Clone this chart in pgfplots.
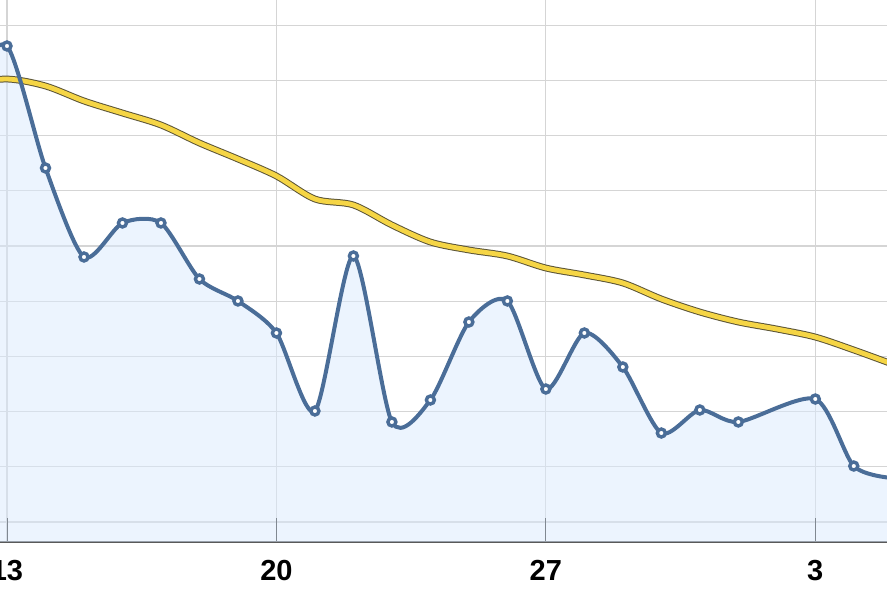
\documentclass[border=0pt]{standalone}
\usepackage{pgfplots}
\usepackage{pgfplotstable}
\pgfplotsset{compat=1.18}
\usepgfplotslibrary{fillbetween}
\usepackage{fontspec}
\setmainfont{Liberation Sans}

\definecolor{lineblue}{HTML}{4A6D98}
\definecolor{areablue}{HTML}{DAEAFD}
\definecolor{gold}{HTML}{F5D545}
\definecolor{goldedge}{HTML}{5B5436}
\definecolor{gridgray}{HTML}{D5D5D5}

% day index 0 = the 13th; day 20 (the 2nd) has no value
\pgfplotstableread{
day val
-1  8.007
0   8.623
1   6.413
2   4.801
3   5.417
4   5.417
5   4.402
6   4.004
7   3.424
8   2.011
9   4.819
10  1.812
11  2.210
12  3.623
13  4.004
14  2.409
15  3.424
16  2.808
17  1.612
18  2.029
19  1.812
21  2.228
22  1.014
23  0.797
}\daily

\pgfplotstableread{
day val
-1  7.935
0   8.025
1   7.899
2   7.627
3   7.409
4   7.192
5   6.866
6   6.576
7   6.268
8   5.851
9   5.743
10  5.380
11  5.072
12  4.928
13  4.819
14  4.601
15  4.475
16  4.330
17  4.040
18  3.804
19  3.623
20  3.496
21  3.351
22  3.116
23  2.862
}\trend

\begin{document}
\begin{tikzpicture}
\begin{axis}[
    at={(-12.245pt,58pt)}, anchor=south west,
    x=38.49pt, y=55.2pt,
    xmin=-0.5, xmax=23.5, ymin=-0.3623, ymax=9.6,
    axis x line*=bottom, axis y line*=left,
    x axis line style={-, draw=black!65, line width=1.4pt},
    y axis line style={draw=none},
    xtick={0,7,14,21}, xticklabels={13,20,27,3},
    ytick={0,1,...,9}, yticklabels={},
    xmajorgrids, ymajorgrids,
    major grid style={gridgray, line width=1.1pt},
    tick align=inside,
    major tick length=24pt,
    xtick style={draw=black!85, line width=1pt},
    ytick style={draw=none},
    xticklabel style={font=\bfseries\fontsize{29}{29}\selectfont, inner sep=0pt, yshift=-18pt},
]
\addplot[draw=none, name path=base] coordinates {(-2,-0.3623) (25,-0.3623)};
\addplot[draw=none, name path=blue, smooth, tension=0.45] table[x=day, y=val] {\daily};
\addplot[areablue, fill opacity=0.5, draw=none] fill between[of=blue and base];

\addplot[goldedge, line width=6.8pt, smooth, tension=0.5] table[x=day, y=val] {\trend};
\addplot[gold, line width=4.8pt, smooth, tension=0.5] table[x=day, y=val] {\trend};

\addplot[lineblue, line width=4pt, smooth, tension=0.45,
    mark=*, mark size=4pt,
    every mark/.append style={fill=white, draw=lineblue, line width=3.4pt}]
    table[x=day, y=val] {\daily};
\end{axis}
\pgfresetboundingbox
\path[use as bounding box] (0,0) rectangle (887pt,600pt);
\end{tikzpicture}
\end{document}
